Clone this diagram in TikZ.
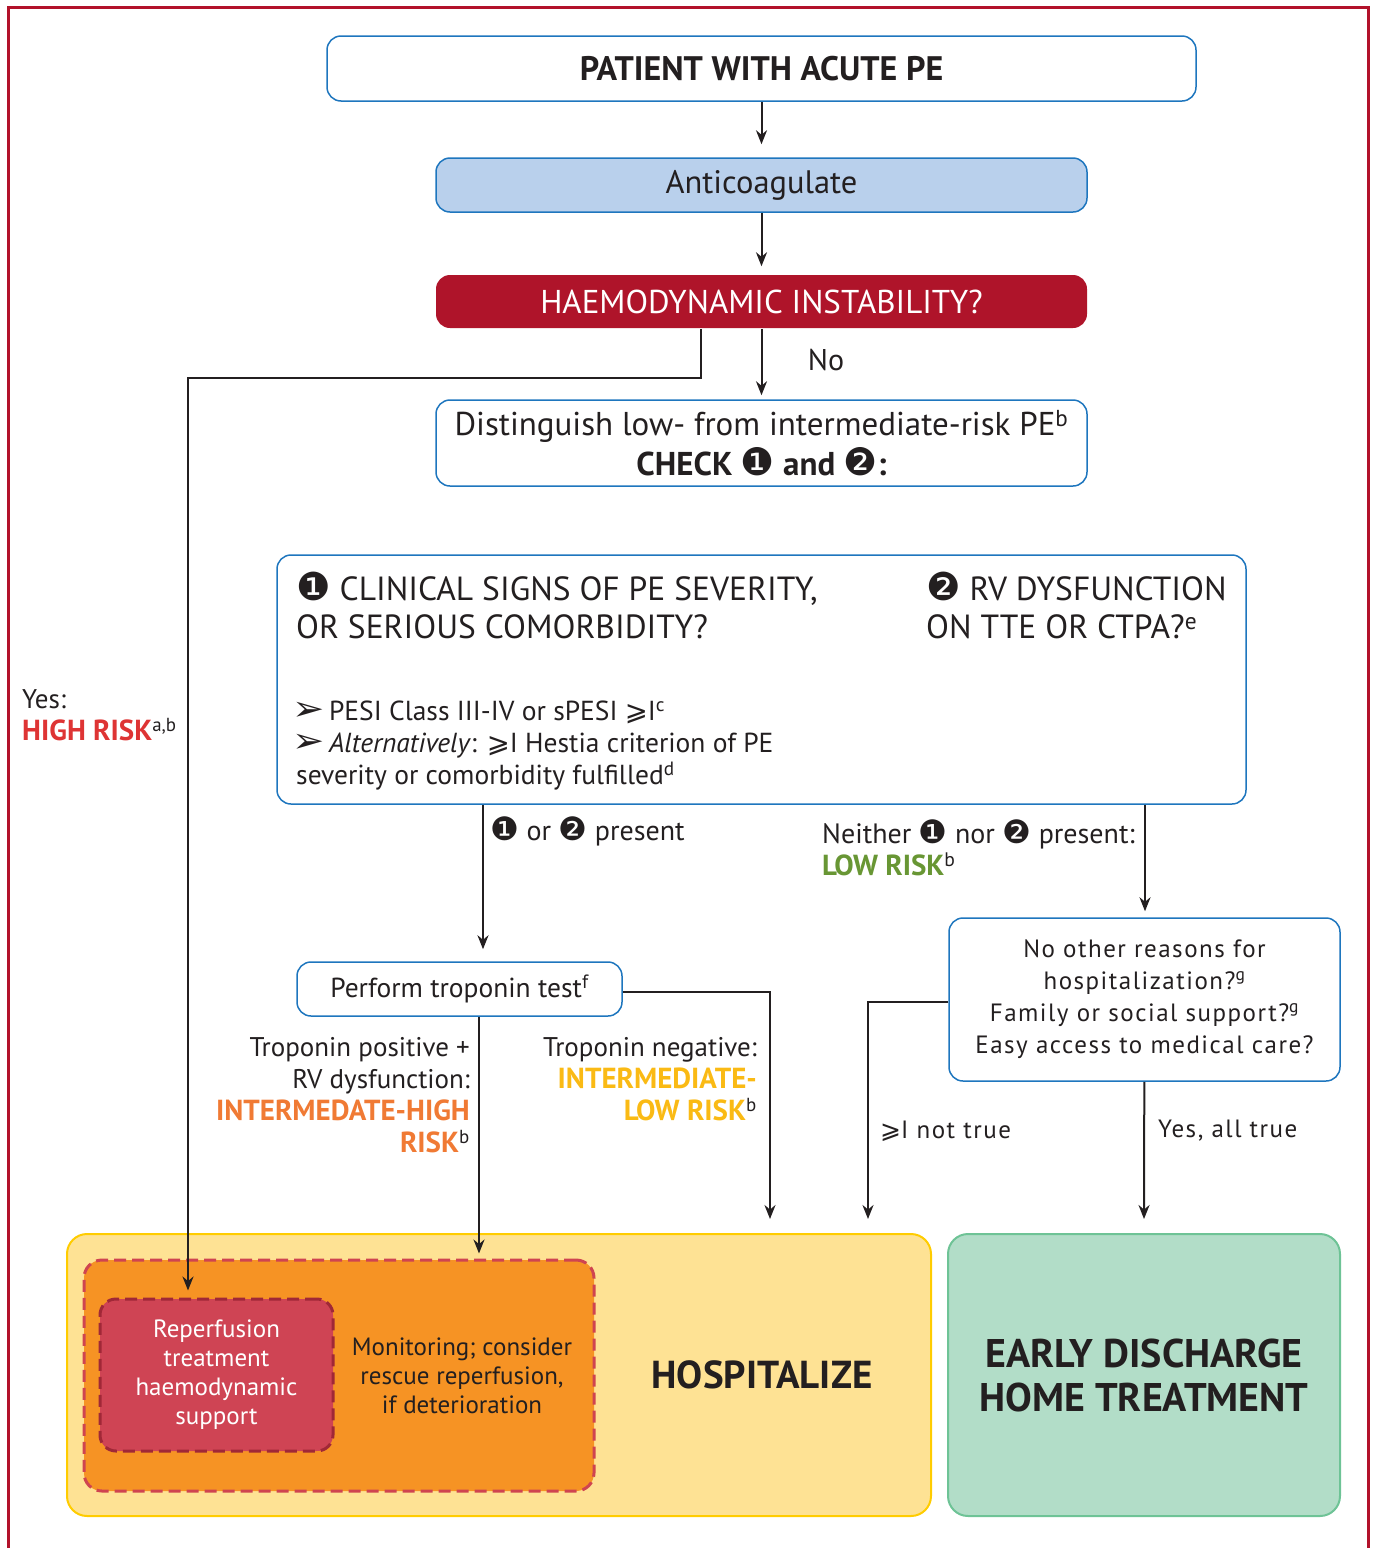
\documentclass[tikz,border=0pt]{standalone}
\usepackage{fontspec}
\usepackage{graphicx}
\setmainfont{PT Sans}
\newfontfamily\symbfont[BoldFont={DejaVu Sans}]{DejaVu Sans}
\newfontfamily\widefont[LetterSpace=6]{PT Sans}
\usetikzlibrary{arrows.meta,calc}

\definecolor{framered}{RGB}{178,18,42}
\definecolor{inkblack}{RGB}{35,31,32}
\definecolor{boxblue}{RGB}{30,118,190}
\definecolor{anticoagfill}{RGB}{185,208,236}
\definecolor{haemofill}{RGB}{175,20,42}
\definecolor{highred}{RGB}{222,52,52}
\definecolor{lowgreen}{RGB}{104,150,52}
\definecolor{interhigh}{RGB}{240,122,52}
\definecolor{interlow}{RGB}{250,186,20}
\definecolor{hospfill}{RGB}{254,226,148}
\definecolor{hospline}{RGB}{255,204,0}
\definecolor{orangefill}{RGB}{246,147,36}
\definecolor{orangedash}{RGB}{207,68,80}
\definecolor{reperffill}{RGB}{207,68,84}
\definecolor{reperfdash}{RGB}{160,40,55}
\definecolor{earlyfill}{RGB}{178,221,200}
\definecolor{earlyline}{RGB}{110,195,150}

\def\numone{{\symbfont\scalebox{1.15}{❶}}}
\def\numtwo{{\symbfont\scalebox{1.15}{❷}}}
\def\atleastsign{{\symbfont ⩾}}
\def\pointer{{\symbfont\scalebox{1.4}[1.25]{➢}}}
\newcommand\bigfont{\fontsize{33}{38}\selectfont}
\newcommand\midfont{\fontsize{27}{32}\selectfont}
\newcommand\smallfont{\fontsize{25}{29}\selectfont}
\newcommand\riskfont{\bfseries\fontsize{29}{32}\selectfont}

\tikzset{
	plainbox/.style={draw=boxblue, line width=1.5pt, rounded corners=14pt, fill=white, inner sep=0pt, text=inkblack},
	conn/.style={draw=inkblack, line width=2pt, -{Stealth[length=14pt,width=11pt]}},
	dashbox/.style={rounded corners=18pt, line width=3pt, dash pattern=on 12pt off 6pt, inner sep=0pt},
	label/.style={inner sep=0pt, text=inkblack, font=\midfont}
}

\begin{document}
\begin{tikzpicture}[x=1pt, y=-1pt]
			%%%%% START %%%%%
			\useasboundingbox (0,0) rectangle (1375,1548);
			
			\draw[framered, line width=3pt] (8,1548) -- (8,7) -- (1368,7) -- (1368,1548);
			
			\node[plainbox, minimum width=869pt, minimum height=65pt, font=\fontsize{34}{38}\selectfont\bfseries] (patient) at (761.5,68.5) {PATIENT WITH ACUTE PE};
			\node[plainbox, fill=anticoagfill, minimum width=651pt, minimum height=54pt, font=\fontsize{32.5}{38}\selectfont] (anticoag) at (761.5,185) {Anticoagulate};
			\node[plainbox, draw=none, fill=haemofill, text=white, minimum width=651pt, minimum height=53pt, font=\bigfont] (haemo) at (761.5,301.5) {HAEMODYNAMIC INSTABILITY?};
			\node[plainbox, minimum width=651pt, minimum height=86pt, align=center, font=\fontsize{33}{40}\selectfont] (distinguish) at (761.5,443) {Distinguish low- from intermediate-risk PE\textsuperscript{b}\\\textbf{CHECK \numone\ and \numtwo:}};
			
			% clinical signs / RV box
			\node[plainbox, minimum width=969pt, minimum height=249pt] (signs) at (761.5,679.5) {};
			\node[label, anchor=west, align=left, font=\fontsize{33.5}{38}\selectfont] (severity) at (296,605) {\numone\ CLINICAL SIGNS OF PE SEVERITY,\\OR SERIOUS COMORBIDITY?};
			\node[label, anchor=west, align=left, font=\fontsize{33.5}{38}\selectfont] (rvdys) at (926,605) {\numtwo\ RV DYSFUNCTION\\ON TTE OR CTPA?\textsuperscript{e}};
			\node[label, anchor=west, align=left, font=\fontsize{27.5}{32}\selectfont] (pesi) at (292,746) {\pointer\,PESI Class III-IV or sPESI \atleastsign I\textsuperscript{c}\\\pointer\,\textit{Alternatively}: \atleastsign I Hestia criterion of PE\\\hspace*{4pt}severity or comorbidity fulfilled\textsuperscript{d}};
			
			\node[plainbox, minimum width=325pt, minimum height=54pt, font=\fontsize{27.5}{30}\selectfont] (troponin) at (459.5,989) {Perform troponin test\textsuperscript{f}};
			\node[plainbox, minimum width=391pt, minimum height=163pt, align=center, font=\widefont\fontsize{25}{32}\selectfont] (homecheck) at (1144.5,999.5) {No other reasons for\\hospitalization?\textsuperscript{g}\\Family or social support?\textsuperscript{g}\\Easy access to medical care?};
			
			% outcome boxes
			\node[draw=hospline, fill=hospfill, line width=2pt, rounded corners=20pt, minimum width=864pt, minimum height=282pt, inner sep=0pt] (hosp) at (499,1375) {};
			\node[text=inkblack, font=\fontsize{39}{40}\selectfont\bfseries] (hosptext) at (762,1375) {HOSPITALIZE};
			\node[dashbox, draw=orangedash, fill=orangefill, minimum width=510pt, minimum height=231pt] (orangezone) at (339,1375.5) {};
			\node[dashbox, draw=reperfdash, fill=reperffill, rounded corners=16pt, minimum width=233pt, minimum height=152pt, text=white, align=center, font=\smallfont] (reperf) at (216.5,1375) {Reperfusion\\treatment\\haemodynamic\\support};
			\node[text=inkblack, align=center, font=\smallfont] (monitor) at (462,1376) {Monitoring; consider\\rescue reperfusion,\\if deterioration};
			\node[draw=earlyline, fill=earlyfill, line width=2pt, rounded corners=20pt, minimum width=392pt, minimum height=282pt, inner sep=0pt, text=inkblack, align=center, font=\fontsize{40}{44}\selectfont\bfseries] (early) at (1144,1375) {EARLY DISCHARGE\\HOME TREATMENT};
			
			% labels
			\node[label, font=\fontsize{30}{32}\selectfont] (nolabel) at (826,360) {No};
			\node[label, anchor=west, align=left] (yeslabel) at (22,715) {Yes:\\\textcolor{highred}{\riskfont HIGH RISK}\textsuperscript{a,b}};
			\node[label, anchor=west, font=\fontsize{28}{32}\selectfont] (presentlabel) at (490,831) {\numone\ or \numtwo\ present};
			\node[label, anchor=west, align=left, font=\fontsize{28}{32}\selectfont] (neitherlabel) at (822,848) {Neither \numone\ nor \numtwo\ present:\\\textcolor{lowgreen}{\riskfont LOW RISK}\textsuperscript{b}};
			\node[label, anchor=east, align=right] (poslabel) at (470,1095) {Troponin positive +\\RV dysfunction:\\\textcolor{interhigh}{\riskfont INTERMEDATE-HIGH}\\\textcolor{interhigh}{\riskfont RISK}\textsuperscript{b}};
			\node[label, anchor=east, align=right] (neglabel) at (757,1079) {Troponin negative:\\\textcolor{interlow}{\riskfont INTERMEDIATE-}\\\textcolor{interlow}{\riskfont LOW RISK}\textsuperscript{b}};
			\node[label, anchor=west, font=\widefont\fontsize{25}{30}\selectfont] (notlabel) at (880,1131) {\atleastsign I not true};
			\node[label, anchor=west, font=\widefont\fontsize{25}{30}\selectfont] (alllabel) at (1158,1131) {Yes, all true};
			
			% columns for the connectors
			\coordinate (yescol) at (701,0);
			\coordinate (yesbend) at (188,378);
			\coordinate (poscol) at (483,0);
			\coordinate (homecol) at (1145,0);
			\coordinate (lowcol) at (770,0);
			\coordinate (notcol) at (868,0);
			
			\draw[conn] (patient) -- ([yshift=13pt]anticoag.north);
			\draw[conn] (anticoag) -- ([yshift=8pt]haemo.north);
			\draw[conn] (haemo) -- ([yshift=4pt]distinguish.north);
			\draw[conn] (haemo.south -| yescol) |- (yesbend) -- ([yshift=7pt]reperf.north -| yesbend);
			\draw[conn] (signs.south -| poscol) -- ([yshift=12pt]troponin.north -| poscol);
			\draw[conn] (signs.south -| homecol) -- ([yshift=6pt]homecheck.north -| homecol);
			\draw[conn] (troponin.east |- 0,992) -| ([yshift=14pt]hosp.north -| lowcol);
			\draw[conn] (troponin.south -| 479,0) -- ([yshift=5pt]orangezone.north -| 479,0);
			\draw[conn] (homecheck.west |- 0,1002) -| ([yshift=14pt]hosp.north -| notcol);
			\draw[conn] (homecheck) -- ([yshift=14pt]early.north);
			
			%%%%% END %%%%%
\end{tikzpicture}
\end{document}
